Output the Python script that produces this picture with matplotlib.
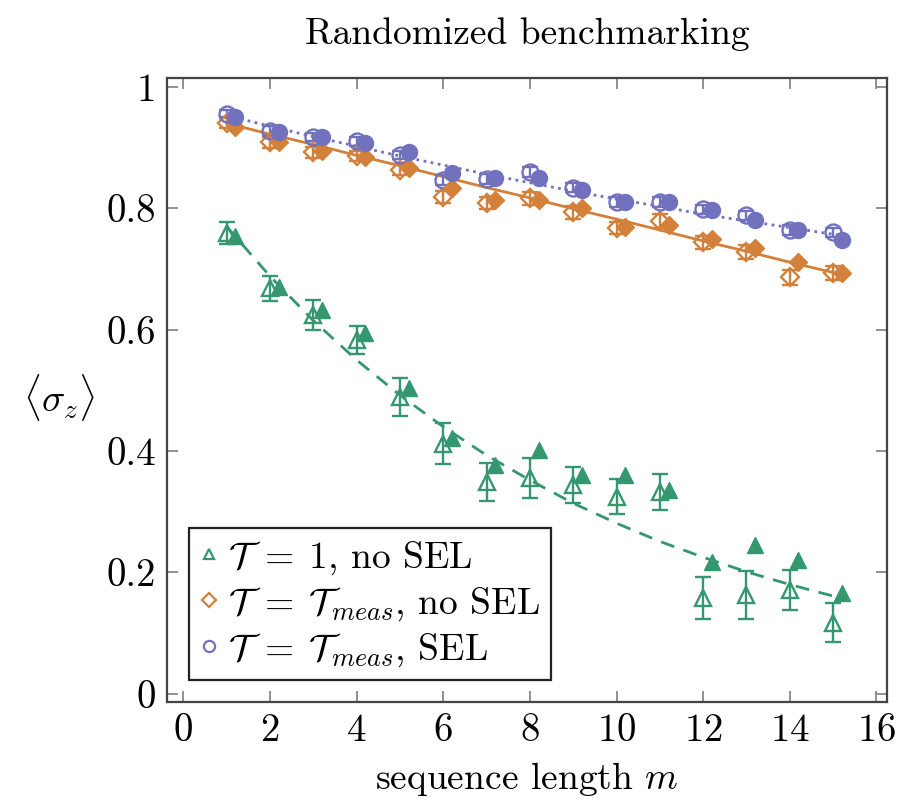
import matplotlib
matplotlib.use("Agg")
import matplotlib.pyplot as plt
from matplotlib.lines import Line2D

plt.rcParams["font.family"] = "serif"
plt.rcParams["font.serif"] = ["cmr10", "DejaVu Serif"]
plt.rcParams["mathtext.fontset"] = "cm"
plt.rcParams["axes.formatter.use_mathtext"] = True

# Sequence lengths (measured) and shifted positions (simulated)
m_exp = [1, 2, 3, 4, 5, 6, 7, 8, 9, 10, 11, 12, 13, 14, 15]
m_sim = [1.2, 2.2, 3.2, 4.2, 5.2, 6.2, 7.2, 8.2, 9.2, 10.2, 11.2, 12.2, 13.2, 14.2, 15.2]
m_fit = [1, 2, 3, 4, 5, 6, 7, 8, 9, 10, 11, 12, 13, 14, 15, 15.2]

# T = 1, no SEL
green_exp = [0.759, 0.668, 0.624, 0.583, 0.489, 0.412, 0.349, 0.355, 0.344, 0.325,
             0.332, 0.158, 0.163, 0.171, 0.117]
green_err = [0.018, 0.021, 0.024, 0.023, 0.031, 0.034, 0.031, 0.033, 0.030, 0.029,
             0.030, 0.034, 0.039, 0.033, 0.032]
green_sim = [0.755, 0.670, 0.632, 0.594, 0.504, 0.421, 0.377, 0.402, 0.360, 0.360,
             0.336, 0.217, 0.245, 0.221, 0.166]
green_fit = [0.770, 0.688, 0.615, 0.550, 0.492, 0.440, 0.393, 0.352, 0.314, 0.281,
             0.251, 0.225, 0.201, 0.180, 0.161, 0.158]

# T = T_meas, no SEL
orange_exp = [0.940, 0.909, 0.892, 0.886, 0.863, 0.818, 0.808, 0.816, 0.793, 0.767,
              0.779, 0.744, 0.728, 0.686, 0.693]
orange_err = [0.008, 0.009, 0.009, 0.009, 0.009, 0.010, 0.010, 0.010, 0.010, 0.010,
              0.011, 0.011, 0.011, 0.012, 0.011]
orange_sim = [0.933, 0.909, 0.895, 0.884, 0.866, 0.833, 0.813, 0.813, 0.800, 0.769,
              0.772, 0.750, 0.734, 0.711, 0.693]
orange_fit = [0.940, 0.922, 0.905, 0.887, 0.870, 0.852, 0.834, 0.817, 0.799, 0.782,
              0.764, 0.746, 0.729, 0.711, 0.694, 0.690]

# T = T_meas, SEL
blue_exp = [0.956, 0.928, 0.917, 0.910, 0.888, 0.846, 0.848, 0.860, 0.834, 0.810,
            0.810, 0.798, 0.788, 0.764, 0.760]
blue_err = [0.006, 0.007, 0.007, 0.007, 0.007, 0.008, 0.008, 0.008, 0.008, 0.008,
            0.008, 0.008, 0.008, 0.008, 0.008]
blue_sim = [0.951, 0.925, 0.918, 0.907, 0.892, 0.858, 0.849, 0.849, 0.830, 0.810,
            0.810, 0.797, 0.780, 0.764, 0.748]
blue_fit = [0.953, 0.935, 0.918, 0.902, 0.886, 0.871, 0.856, 0.842, 0.828, 0.815,
            0.803, 0.790, 0.779, 0.768, 0.757, 0.755]

labels = [r"$\mathcal{T}\;=\;1$, no SEL",
          r"$\mathcal{T}\;=\;\mathcal{T}_{meas}$, no SEL",
          r"$\mathcal{T}\;=\;\mathcal{T}_{meas}$, SEL"]

GREEN, ORANGE, BLUE = "#35976f", "#d2803a", "#7171bd"

fig = plt.figure(figsize=(8.99, 8.01), dpi=100)
ax = fig.add_axes([0.186, 0.124, 0.801, 0.779])

series = [
    (green_exp, green_err, green_sim, green_fit, GREEN, "^", (0, (5, 3.5)), 11),
    (orange_exp, orange_err, orange_sim, orange_fit, ORANGE, "D", "-", 9.5),
    (blue_exp, blue_err, blue_sim, blue_fit, BLUE, "o", (0, (1, 1.6)), 11.5),
]

handles = []
for exp, err, sim, fit, col, mk, ls, ms in series:
    ax.plot(m_fit, fit, color=col, ls=ls, lw=2.0, zorder=2)
    ax.errorbar(m_exp, exp, yerr=err, fmt=mk, color=col, mfc="none", mec=col,
                ms=ms, mew=1.7, elinewidth=1.7, capsize=6, capthick=1.7, zorder=3)
    ax.plot(m_sim, sim, ls="none", marker=mk, color=col, ms=ms, mec=col, zorder=4)
    handles.append(Line2D([], [], ls="none", marker=mk, color=col, mfc="none",
                          mec=col, ms=ms * 0.7, mew=1.6))

ax.set_xlim(-0.37, 16.25)
ax.set_ylim(-0.013, 1.015)
ax.set_xticks([0, 2, 4, 6, 8, 10, 12, 14, 16])
ax.set_yticks([0, 0.2, 0.4, 0.6, 0.8, 1.0])
ax.set_yticklabels(["0", "0.2", "0.4", "0.6", "0.8", "1"])
ax.tick_params(direction="in", length=8, width=1.3, color="#888888",
               top=True, right=True, labelsize=28, pad=8)
for sp in ax.spines.values():
    sp.set_color("#444444")
    sp.set_linewidth(1.6)

ax.set_title("Randomized benchmarking", fontsize=27, pad=24)
ax.set_xlabel("sequence length $m$", fontsize=27, labelpad=8)
ax.set_ylabel(r"$\langle \sigma_z \rangle$", fontsize=28, rotation=0)
ax.yaxis.set_label_coords(-0.15, 0.447)

leg = ax.legend(handles, labels, loc="lower left", bbox_to_anchor=(0.03, 0.035),
                borderaxespad=0, fontsize=27, frameon=True, fancybox=False,
                handlelength=0.5, handletextpad=0.25, borderpad=0.3,
                labelspacing=0.22, framealpha=1)
leg.get_frame().set_edgecolor("#222222")
leg.get_frame().set_linewidth(1.6)

fig.savefig("out.png", dpi=100)
